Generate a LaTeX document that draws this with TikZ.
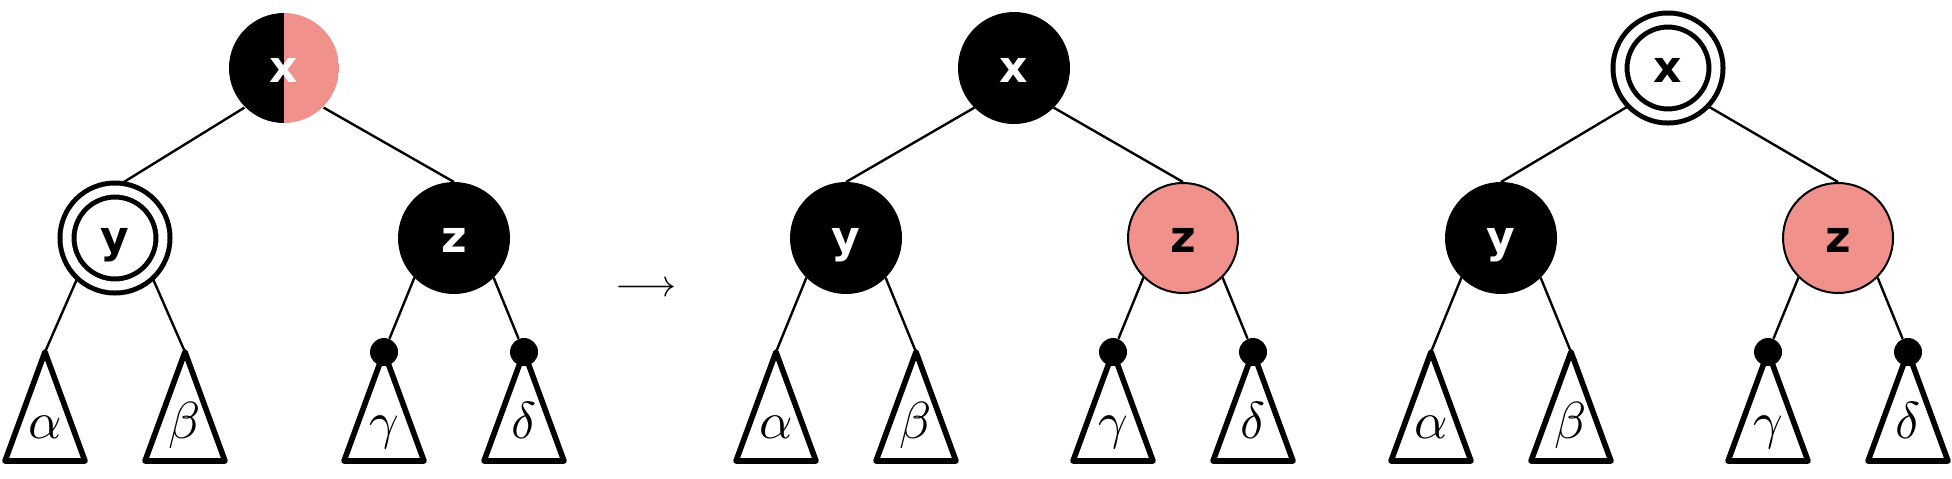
\documentclass[tikz,border=0pt]{standalone}
\usepackage{graphicx}
\usepackage{fontspec}
\setsansfont{DejaVu Sans}
\usetikzlibrary{backgrounds}
\definecolor{rbpink}{RGB}{240,145,140}
\tikzset{
  rbnode/.style={circle, minimum size=55pt, inner sep=0pt, line width=1pt,
    font=\fontsize{22}{24}\selectfont\sffamily\bfseries, text height=14pt, text depth=0pt},
  blacknode/.style={rbnode, fill=black, draw=black, text=white},
  pinknode/.style={rbnode, fill=rbpink, draw=black, text=black},
  splitnode/.style={rbnode, text=white, path picture={
      \fill[black] (path picture bounding box.south west) rectangle (path picture bounding box.north);
      \fill[rbpink] (path picture bounding box.south) rectangle (path picture bounding box.north east);}},
  extranode/.style={rbnode, minimum size=48pt, draw=black, line width=2.5pt,
    double=white, double distance=4.5pt, fill=white, text=black},
  leafdot/.style={circle, fill=black, minimum size=14pt, inner sep=0pt},
  treeedge/.style={line width=1.2pt},
  subtreetri/.style={line width=2.8pt, line join=round},
  greek/.style={anchor=base, inner sep=0pt},
  arrowlabel/.style={inner sep=0pt},
}
\newcommand\trileaf[3]{%
  \coordinate (#1) at (#2,352);
  \draw[subtreetri] (#1) -- ++(-40,109) -- ++(80,0) -- cycle;
  \node[greek] (#1-l) at (#2,438) {\scalebox{2.6}{$#3$}};}
\newcommand\dotleaf[3]{%
  \draw[subtreetri] (#2,352) -- ++(-40,109) -- ++(80,0) -- cycle;
  \node[leafdot] (#1) at (#2,352) {};
  \node[greek] (#1-l) at (#2,438) {\scalebox{2.6}{$#3$}};}
\begin{document}
\begin{tikzpicture}[x=0.5pt,y=-0.5pt]
\useasboundingbox (0,0) rectangle (1952,478);
% tree 1
\node[splitnode] (x1) at (284,68) {x};
\node[extranode] (y1) at (115,238) {y};
\node[blacknode] (z1) at (454,238) {z};
\trileaf{a1}{45}{\alpha}
\trileaf{b1}{185}{\beta}
\dotleaf{g1}{384}{\gamma}
\dotleaf{d1}{524}{\delta}
% arrow
\node[arrowlabel] (arr) at (646,290) {\scalebox{1.9}{$\longrightarrow$}};
% tree 2
\node[blacknode] (x2) at (1014,68) {x};
\node[blacknode] (y2) at (846,238) {y};
\node[pinknode] (z2) at (1183,238) {z};
\trileaf{a2}{776}{\alpha}
\trileaf{b2}{916}{\beta}
\dotleaf{g2}{1113}{\gamma}
\dotleaf{d2}{1253}{\delta}
% tree 3
\node[extranode] (x3) at (1668,68) {x};
\node[blacknode] (y3) at (1501,238) {y};
\node[pinknode] (z3) at (1838,238) {z};
\trileaf{a3}{1431}{\alpha}
\trileaf{b3}{1571}{\beta}
\dotleaf{g3}{1768}{\gamma}
\dotleaf{d3}{1908}{\delta}
\begin{pgfonlayer}{background}
\foreach \t in {1,2,3}{
  \draw[treeedge] (x\t.225) -- (y\t.north);
  \draw[treeedge] (x\t.315) -- (z\t.north);
  \draw[treeedge] (y\t.225) -- (a\t);
  \draw[treeedge] (y\t.315) -- (b\t);
  \draw[treeedge] (z\t.225) -- (g\t);
  \draw[treeedge] (z\t.315) -- (d\t);
}
\end{pgfonlayer}
\end{tikzpicture}
\end{document}
